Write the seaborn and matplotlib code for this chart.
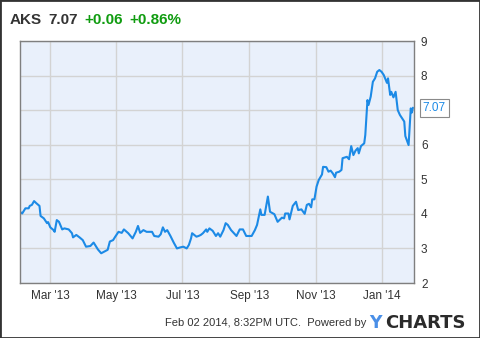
import matplotlib
matplotlib.use("Agg")
import matplotlib.pyplot as plt
import matplotlib.dates as mdates
from matplotlib.patches import Rectangle
import pandas as pd
import seaborn as sns

# ---- data ----
start_date = "2013-02-01"
day_offset = [0, 2, 5, 8, 9, 11, 13, 15, 18, 19, 22, 25, 26, 28, 31, 32, 34, 36, 39, 41,
              45, 48, 49, 52, 55, 58, 61, 65, 68, 70, 72, 75, 78, 81, 83, 86, 88, 91, 94, 96,
              100, 104, 107, 109, 111, 114, 117, 122, 124, 128, 130, 132, 134, 136, 139, 142,
              145, 148, 151, 154, 156, 158, 159, 163, 165, 167, 169, 172, 173, 175, 178, 181,
              183, 185, 188, 190, 192, 195, 200, 203, 206, 209, 214, 217, 219, 222, 223, 226,
              229, 231, 235, 238, 242, 244, 245, 248, 249, 252, 255, 257, 260, 263, 265, 267,
              269, 270, 272, 274, 276, 279, 280, 283, 285, 287, 289, 291, 292, 295, 297, 298,
              302, 304, 306, 308, 310, 312, 313, 315, 318, 319, 321, 322, 324, 326, 328, 330,
              332, 334, 336, 339, 340, 342, 343, 345, 347, 349, 351, 355, 356, 359, 361, 362, 363]
price = [4.06, 4.01, 4.16, 4.16, 4.23, 4.26, 4.37, 4.31, 4.23, 3.94, 3.87, 3.73, 3.76, 3.61,
         3.53, 3.48, 3.82, 3.77, 3.55, 3.58, 3.55, 3.44, 3.32, 3.39, 3.32, 3.24, 3.05, 3.07,
         3.17, 3.07, 2.97, 2.86, 2.91, 2.96, 3.20, 3.24, 3.34, 3.48, 3.45, 3.55, 3.44, 3.29,
         3.48, 3.65, 3.45, 3.53, 3.48, 3.48, 3.36, 3.34, 3.41, 3.61, 3.48, 3.53, 3.36, 3.17,
         3.00, 3.03, 3.05, 3.00, 3.10, 3.29, 3.44, 3.34, 3.36, 3.39, 3.44, 3.55, 3.48, 3.58,
         3.51, 3.36, 3.44, 3.34, 3.53, 3.73, 3.68, 3.53, 3.36, 3.55, 3.55, 3.36, 3.36, 3.53,
         3.68, 4.13, 3.97, 3.97, 4.50, 4.06, 3.99, 3.77, 3.89, 3.87, 4.01, 4.01, 3.84, 4.23,
         4.35, 4.11, 4.13, 4.00, 4.26, 4.29, 4.19, 4.42, 4.42, 4.79, 4.98, 5.14, 5.36, 5.35,
         5.22, 5.25, 5.17, 5.06, 5.19, 5.22, 5.27, 5.61, 5.65, 5.58, 5.96, 5.70, 5.83, 5.90,
         5.75, 5.96, 6.04, 6.28, 7.29, 7.15, 7.39, 7.82, 7.92, 8.11, 8.16, 8.11, 8.02, 7.79,
         7.92, 7.44, 7.53, 7.37, 7.53, 7.00, 6.86, 6.67, 6.25, 5.99, 7.05, 6.93, 7.07]
y_ticks = [2, 3, 4, 5, 6, 7, 8, 9]
# the "7" label is hidden behind the last-value callout in the original
y_tick_labels = ["2", "3", "4", "5", "6", "", "8", "9"]
ticker = "AKS"
last_price = "7.07"
change = "+0.06"
change_pct = "+0.86%"
footer = "Feb 02 2014, 8:32PM UTC.  Powered by"

dates = pd.Timestamp(start_date) + pd.to_timedelta(day_offset, unit="D")
df = pd.DataFrame({"date": dates, "price": price})

sns.set_style("white")
plt.rcParams["font.family"] = ["Liberation Sans", "DejaVu Sans"]

W, H = 480, 338
fig = plt.figure(figsize=(W / 100, H / 100), dpi=100)
ax = fig.add_axes([20 / W, 1 - 283 / H, (414 - 20) / W, (283 - 41) / H])
ax.set_facecolor("#E9F0FB")

line_color = "#1C8AE6"
sns.lineplot(data=df, x="date", y="price", ax=ax, color=line_color, linewidth=1.5)

ax.set_xlim(pd.Timestamp("2013-02-01"), pd.Timestamp("2014-01-31"))
ax.set_ylim(2, 9)
ax.set_yticks(y_ticks)
ax.set_yticklabels(y_tick_labels)
ax.yaxis.tick_right()
ax.xaxis.set_major_locator(mdates.MonthLocator(bymonth=[1, 3, 5, 7, 9, 11]))
ax.xaxis.set_major_formatter(mdates.DateFormatter("%b '%y"))
ax.tick_params(axis="both", length=0, labelsize=8.5, colors="#333333")
ax.tick_params(axis="y", pad=5)
ax.tick_params(axis="x", pad=5)
ax.grid(True, color="#D3D3D3", linewidth=1)
ax.set_axisbelow(True)
ax.set_xlabel("")
ax.set_ylabel("")
for s in ax.spines.values():
    s.set_color("#7F7F7F")
    s.set_linewidth(1)
    s.set_visible(True)

# last-value callout
ax.annotate(last_price, xy=(df["date"].iloc[-1], price[-1]), xytext=(7, 0),
            textcoords="offset points", ha="left", va="center", fontsize=8.5,
            color=line_color, annotation_clip=False, zorder=10,
            bbox=dict(boxstyle="square,pad=0.25", fc="white", ec="#8A8A8A", lw=0.8))

# header
fig.text(10 / W, 1 - 20 / H, ticker, fontsize=11, fontweight="bold", color="#333333", va="center")
fig.text(48 / W, 1 - 20 / H, last_price, fontsize=11, fontweight="bold", color="#333333", va="center")
fig.text(84 / W, 1 - 20 / H, change, fontsize=11, fontweight="bold", color="#109C10", va="center")
fig.text(129 / W, 1 - 20 / H, change_pct, fontsize=11, fontweight="bold", color="#109C10", va="center")

# footer
fig.text(366 / W, 1 - 323 / H, footer, fontsize=8, color="#333333", ha="right", va="center")
fig.text(369 / W, 1 - 323 / H, "Y", fontsize=12.5, fontweight="bold", color="#4A8FE7",
         va="center", family="DejaVu Sans")
fig.text(385 / W, 1 - 323 / H, "CHARTS", fontsize=13, fontweight="bold", color="#2B2B2B",
         va="center", family="DejaVu Sans")

# outer border
fig.patches.append(Rectangle((0, 0), 1, 1, transform=fig.transFigure, fill=False,
                             ec="#333333", lw=2, zorder=20))

fig.savefig("out.png", dpi=100)
